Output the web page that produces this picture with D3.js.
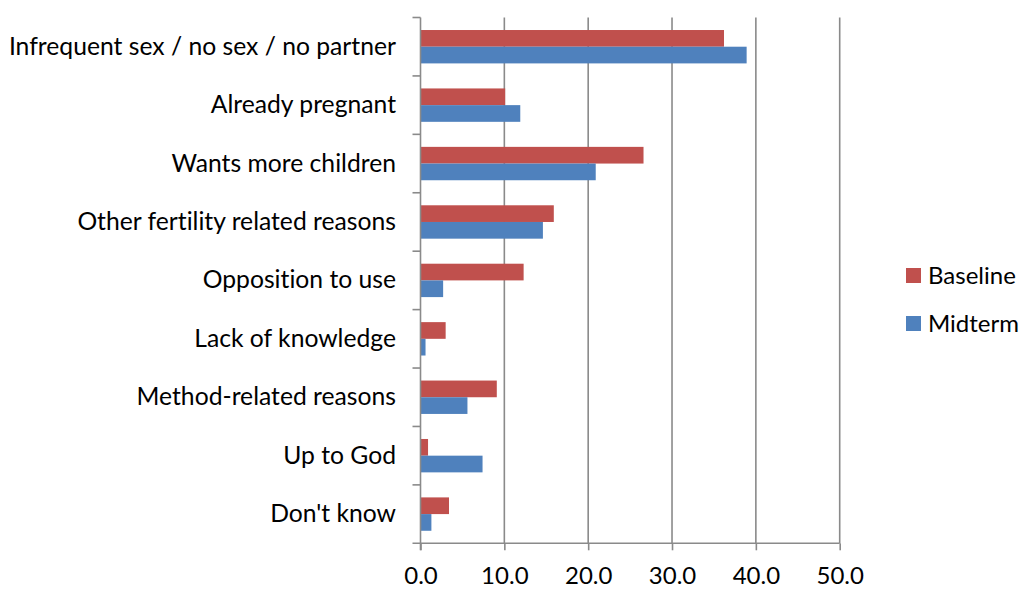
<!DOCTYPE html>
<html>
<head>
<meta charset="utf-8">
<script src="https://cdn.jsdelivr.net/npm/d3@7"></script>
<style>
  body { margin: 0; background: #fff; }
  svg { display: block; }
  text { font-family: Lato, "Open Sans", sans-serif; fill: #000;
         font-variant-ligatures: none; font-feature-settings: "liga" 0, "dlig" 0; }
</style>
</head>
<body>
<svg id="chart" width="1023" height="589"></svg>
<script>
// Reasons for not using contraception, % of respondents
const categories = [
  "Infrequent sex / no sex / no partner",
  "Already pregnant",
  "Wants more children",
  "Other fertility related reasons",
  "Opposition to use",
  "Lack of knowledge",
  "Method-related reasons",
  "Up to God",
  "Don't know"
];
const seriesNames = ["Baseline", "Midterm"];
const baseline = [36.2, 10.1, 26.6, 15.9, 12.3, 3.0, 9.1, 0.9, 3.4];
const midterm  = [38.9, 11.9, 20.9, 14.6, 2.7, 0.6, 5.6, 7.4, 1.3];
const xTicks = [0, 10, 20, 30, 40, 50];
const colors = ["#C0504D", "#4F81BD"];

const seriesValues = [baseline, midterm];
const rows = categories.map((c, i) => ({
  category: c,
  values: seriesNames.map((s, k) => ({ series: s, value: seriesValues[k][i] }))
}));

const svg = d3.select("#chart");
const plot = { left: 420.5, right: 839.7, top: 17.5, bottom: 543.3 };

const x = d3.scaleLinear().domain([0, 50]).range([plot.left, plot.right]);
const y = d3.scaleBand().domain(categories).range([plot.top, plot.bottom])
  .paddingInner(0).paddingOuter(0);
// two bars per band, Excel-style 150% gap width
const barH = y.bandwidth() / 3.5;
const inner = d3.scaleBand().domain(seriesNames)
  .range([0.75 * barH, 2.75 * barH]);

// vertical gridlines
svg.append("g")
  .selectAll("line")
  .data(xTicks.filter(t => t > 0))
  .join("line")
  .attr("x1", d => x(d)).attr("x2", d => x(d))
  .attr("y1", plot.top).attr("y2", plot.bottom)
  .attr("stroke", "#8a8a8a").attr("stroke-width", 1.6);

// bars
const groups = svg.append("g")
  .selectAll("g")
  .data(rows)
  .join("g")
  .attr("transform", d => `translate(0,${y(d.category)})`);

groups.selectAll("rect")
  .data(d => d.values)
  .join("rect")
  .attr("x", x(0))
  .attr("y", d => inner(d.series))
  .attr("width", d => x(d.value) - x(0))
  .attr("height", inner.bandwidth())
  .attr("fill", (d, i) => colors[i]);

// x axis
const xAxis = d3.axisBottom(x).tickValues(xTicks).tickFormat(d3.format(".1f"))
  .tickSize(7).tickSizeOuter(0);
const gx = svg.append("g")
  .attr("transform", `translate(0,${plot.bottom})`)
  .call(xAxis);
gx.select(".domain").attr("stroke", "#8a8a8a").attr("stroke-width", 1.6)
  .attr("d", `M${plot.left - 8},0H${plot.right}`);
gx.selectAll(".tick line").attr("stroke", "#8a8a8a").attr("stroke-width", 1.6);
gx.selectAll(".tick text")
  .attr("y", 41).attr("dy", 0)
  .style("font-size", "24px")
  .style("font-family", "Lato, 'Open Sans', sans-serif")
  .attr("fill", "#000");

// y axis (category ticks at band boundaries)
const gy = svg.append("g");
gy.append("line")
  .attr("x1", plot.left).attr("x2", plot.left)
  .attr("y1", plot.top).attr("y2", plot.bottom + 7)
  .attr("stroke", "#8a8a8a").attr("stroke-width", 1.6);
gy.selectAll("line.tick")
  .data(categories)
  .join("line")
  .attr("class", "tick")
  .attr("x1", plot.left - 8).attr("x2", plot.left)
  .attr("y1", d => y(d)).attr("y2", d => y(d))
  .attr("stroke", "#8a8a8a").attr("stroke-width", 1.6);
gy.selectAll("text")
  .data(categories)
  .join("text")
  .attr("x", 396)
  .attr("y", d => y(d) + y.bandwidth() / 2 + 8)
  .attr("text-anchor", "end")
  .style("font-size", "24.7px")
  .text(d => d);

// legend
const legend = svg.append("g")
  .selectAll("g")
  .data(seriesNames)
  .join("g")
  .attr("transform", (d, i) => `translate(906,${268 + i * 48})`);
legend.append("rect")
  .attr("width", 15).attr("height", 15)
  .attr("fill", (d, i) => colors[i]);
legend.append("text")
  .attr("x", 22).attr("y", 15.5)
  .style("font-size", "24px")
  .text(d => d);
</script>
</body>
</html>
